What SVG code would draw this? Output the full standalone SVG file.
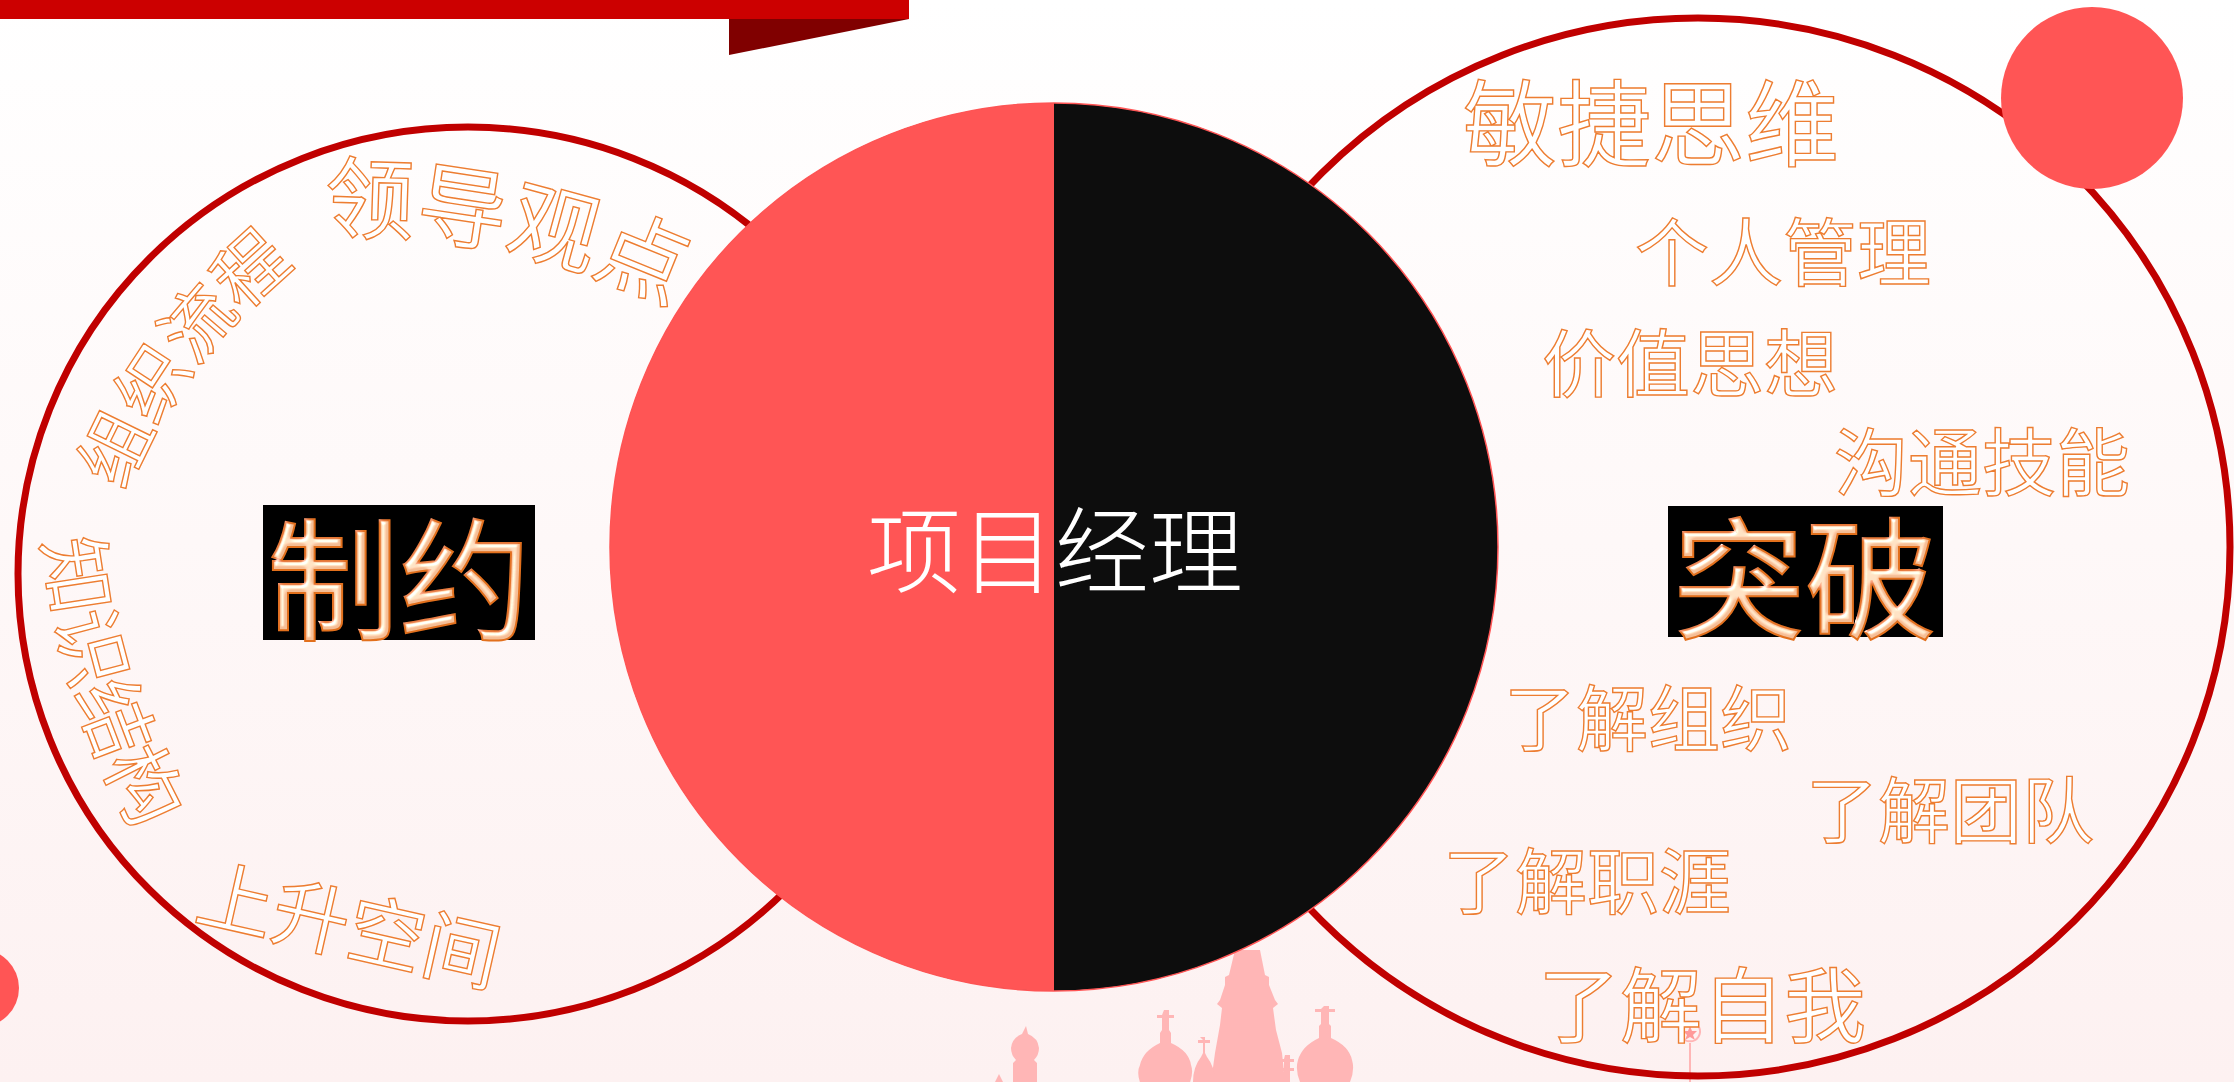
<svg xmlns="http://www.w3.org/2000/svg" width="2234" height="1082" viewBox="0 0 2234 1082">
  <style>
    .cjk { font-family: 'Noto Sans CJK SC', 'Noto Sans CJK JP', sans-serif; }
    .outline { fill: #ffffff; stroke: #ED7D31; stroke-width: 1.4; }
    .ring { fill: none; stroke: #C00000; stroke-width: 7; }
    .dot { fill: #FF5555; }
    .emboss { fill: #F4BE96; stroke: #E2701F; stroke-width: 2; filter: url(#bevel); }
    .silhouette { fill: #FFB6B6; }
  </style>
  <defs>
    <linearGradient id="bg" x1="0" y1="0" x2="0" y2="1">
      <stop offset="0" stop-color="#FFFFFF"/>
      <stop offset="1" stop-color="#FDF1F1"/>
    </linearGradient>
    <filter id="bevel" x="-10%" y="-10%" width="120%" height="120%">
      <feGaussianBlur in="SourceAlpha" stdDeviation="2.2" result="blur"/>
      <feSpecularLighting in="blur" surfaceScale="5" specularConstant="1.1" specularExponent="14" lighting-color="#FFFFFF" result="spec">
        <feDistantLight azimuth="235" elevation="40"/>
      </feSpecularLighting>
      <feComposite in="spec" in2="SourceAlpha" operator="in" result="specIn"/>
      <feComposite in="SourceGraphic" in2="specIn" operator="arithmetic" k1="0" k2="1" k3="0.9" k4="0"/>
    </filter>
    <!-- guide curves that carry the labels inside the left ring -->
    <path id="arcTopA" d="M124.0,492.5 A572.6,572.6 0 0,1 411.0,192.7"/>
    <path id="arcTopB" d="M323.4,232.0 A766,766 0 0,1 782.8,370.2"/>
    <path id="arcLeft" d="M44.3,541.1 A728.9,728.9 0 0,0 211.2,937.2"/>
    <path id="arcBottom" d="M192.5,919.3 L582.5,1007.7"/>
  </defs>

  <!-- backdrop -->
  <rect x="0" y="0" width="2234" height="1082" fill="url(#bg)"/>

  <!-- title ribbon -->
  <g id="ribbon">
    <rect x="0" y="0" width="909" height="19" fill="#CC0000"/>
    <polygon points="729,19 909,19 729,55" fill="#800000"/>
  </g>

  <!-- skyline silhouette along the bottom -->
  <g id="skyline" class="silhouette">
    <path d="M1235,950 L1260,950 L1265,975 L1269,977 L1269,985 L1275,1000 L1278,1004 L1273,1008 L1276,1030 L1282,1053 L1285,1082 L1211,1082 L1215,1053 L1220,1025 L1222,1008 L1217,1004 L1220,1000 L1225,985 L1225,977 L1229,975 Z"/>
    <path d="M1164,1010 h5 v5 h5 v3 h-5 v12 l2,3 v10 q18,8 20,22 q3,8 -2,20 h-48 q-5,-12 -1,-20 q3,-14 20,-22 v-10 l2,-3 v-12 h-5 v-3 h5 z"/>
    <path d="M1200,1037 h5 v3 h5 v3 h-5 v10 l2,4 q8,10 8,25 h-22 q0,-15 8,-25 l2,-4 v-10 h-5 v-3 h5 z"/>
    <path d="M1324,1006 h5 v3 h6 v3 h-6 v12 l2,2 v12 q18,8 21,22 q3,10 -2,22 h-50 q-5,-12 -2,-22 q4,-14 21,-22 v-12 l2,-2 v-12 h-6 v-3 h6 z"/>
    <path d="M1285,1055 h5 v4 h4 v3 h-4 v6 h4 v3 h-4 v11 h-6 v-11 h-4 v-3 h4 v-6 h-4 v-3 h4 z"/>
    <path d="M1026,1026 l2,8 q10,4 11,14 q0,7 -5,12 l3,3 v19 h-24 v-19 l3,-3 q-5,-5 -5,-12 q1,-10 11,-14 z"/>
    <path d="M999,1074 l4,8 h-8 z"/>
    <polygon points="1690,1026 1692,1031 1697,1031 1693,1035 1695,1040 1690,1037 1685,1040 1687,1035 1683,1031 1688,1031" fill="#FF9A9A"/>
    <path d="M1681,1027 a10,10 0 1,0 18,0" fill="none" stroke="#FFB6B6" stroke-width="2"/>
    <rect x="1689" y="1043" width="2" height="39"/>
  </g>

  <!-- left ring: constraints -->
  <g id="constraints">
    <ellipse class="ring" cx="468" cy="574" rx="450" ry="447"/>
    <rect x="263" y="505" width="272" height="135" fill="#000000"/>
    <text class="cjk emboss" x="399" y="572" font-size="132" text-anchor="middle" dominant-baseline="central">制约</text>
    <text class="cjk outline" font-size="72"><textPath href="#arcTopA">组织流程</textPath></text>
    <text class="cjk outline" font-size="90"><textPath href="#arcTopB">领导观点</textPath></text>
    <text class="cjk outline" font-size="77"><textPath href="#arcLeft">知识结构</textPath></text>
    <text class="cjk outline" font-size="77"><textPath href="#arcBottom">上升空间</textPath></text>
  </g>

  <!-- right ring: breakthroughs -->
  <g id="breakthroughs">
    <ellipse class="ring" cx="1698" cy="547" rx="532" ry="529"/>
    <rect x="1668" y="506" width="275" height="131" fill="#000000"/>
    <text class="cjk emboss" x="1805" y="571" font-size="132" text-anchor="middle" dominant-baseline="central">突破</text>
    <text class="cjk outline" x="1463" y="118" font-size="94" dominant-baseline="central">敏捷思维</text>
    <text class="cjk outline" x="1635" y="247" font-size="74" dominant-baseline="central">个人管理</text>
    <text class="cjk outline" x="1542" y="358" font-size="74" dominant-baseline="central">价值思想</text>
    <text class="cjk outline" x="1834" y="457" font-size="74" dominant-baseline="central">沟通技能</text>
    <text class="cjk outline" x="1504" y="713" font-size="72" dominant-baseline="central">了解组织</text>
    <text class="cjk outline" x="1806" y="805" font-size="72" dominant-baseline="central">了解团队</text>
    <text class="cjk outline" x="1443" y="876" font-size="72" dominant-baseline="central">了解职涯</text>
    <text class="cjk outline" x="1538" y="1000" font-size="82" dominant-baseline="central">了解自我</text>
  </g>

  <!-- accent dots -->
  <g id="accents">
    <circle class="dot" cx="2092" cy="98" r="91"/>
    <circle class="dot" cx="-20" cy="988" r="39"/>
  </g>

  <!-- centre disc: project manager -->
  <g id="manager">
    <circle cx="1054" cy="547" r="444" fill="#0D0D0D" stroke="#FF5555" stroke-width="1.5"/>
    <path d="M1054,103 A444,444 0 0,0 1054,991 Z" fill="#FF5555"/>
    <text class="cjk" x="1055" y="545" font-size="94" fill="#FFFFFF" font-weight="300" text-anchor="middle" dominant-baseline="central">项目经理</text>
  </g>
</svg>
